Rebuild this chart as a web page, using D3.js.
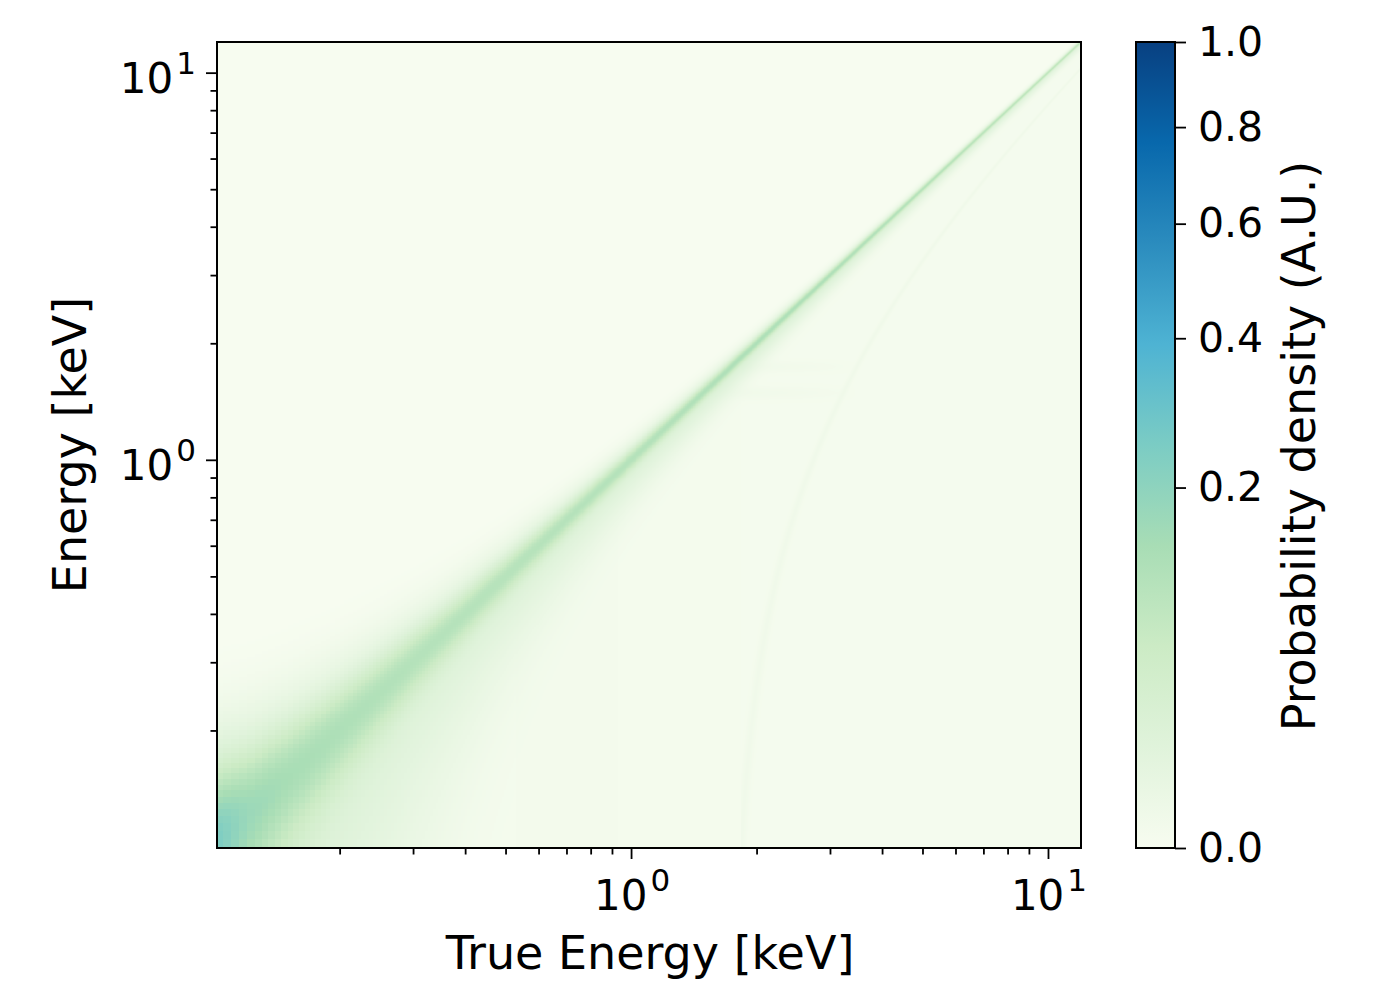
<!DOCTYPE html>
<html>
<head>
<meta charset="utf-8">
<script src="https://cdnjs.cloudflare.com/ajax/libs/d3/7.8.5/d3.min.js"></script>
<style>
  body { margin: 0; background: #fff; }
  text { font-family: "DejaVu Sans", sans-serif; fill: #000; }
</style>
</head>
<body>
<svg id="chart" width="1394" height="988"></svg>
<script>
// main diagonal (photo peak)
var lineEnergy  = [0.1, 0.12, 0.15, 0.2, 0.3, 0.5, 1, 2, 3, 5, 10, 12];
var peakDensity = [0.25, 0.17, 0.14, 0.125, 0.11, 0.105, 0.11, 0.125, 0.12, 0.105, 0.085, 0.08];
var lineFwhm    = [0.068, 0.069, 0.070, 0.072, 0.074, 0.076, 0.080, 0.090, 0.100, 0.120, 0.160, 0.175];

// faint features below the diagonal
var shelfEdge  = [0.1, 0.53, 0.93, 1.84];
var shelfLevel = [0.0003, 0.0005, 0.0003, 0.0002];
var escapeShift = 1.74;
var escapeLevel = 0.0012;
var fluorLine  = [1.49, 1.74];
var fluorLevel = [0.0012, 0.001];
var fluorFrom  = [1.56, 1.84];
var fluorTo    = [3.5, 3.5];
var binWidth = 0.005;

var xMajor = [1, 10];
var yMajor = [1, 10];
var minor = [0.2, 0.3, 0.4, 0.5, 0.6, 0.7, 0.8, 0.9, 2, 3, 4, 5, 6, 7, 8, 9];
var cbTicks = [0, 0.2, 0.4, 0.6, 0.8, 1.0];

// matplotlib GnBu
var gnbu = ['#f7fcf0', '#e0f3db', '#ccebc5', '#a8ddb5', '#7bccc4',
            '#4eb3d3', '#2b8cbe', '#0868ac', '#084081'];

var m = { left: 217, top: 42, right: 1081, bottom: 848 };
var svg = d3.select('#chart');

var x = d3.scaleLog().domain([0.1016, 12]).range([m.left, m.right]);
var y = d3.scaleLog().domain([0.0994, 12]).range([m.bottom, m.top]);

var peakAt = d3.scaleLog().domain(lineEnergy).range(peakDensity).clamp(true);
var fwhmAt = d3.scaleLog().domain(lineEnergy).range(lineFwhm).clamp(true);
var norm = d3.scalePow().exponent(0.5).domain([0, 1]).clamp(true);
var cmap = d3.scaleLinear()
    .domain(gnbu.map(function (c, i) { return i / (gnbu.length - 1); }))
    .range(gnbu);
var lut = d3.range(1024).map(function (i) { return d3.rgb(cmap(i / 1023)); });

function bin(e) {
    return (Math.floor(e / binWidth) + 0.5) * binWidth;
}

function shelf(et) {
    var i = Math.max(d3.bisectRight(shelfEdge, et) - 1, 0);
    return shelfLevel[i];
}

function gauss(d, s) {
    return Math.exp(-0.5 * d * d / (s * s));
}

function density(et, em) {
    var s = fwhmAt(et) / 2.355;
    var a = peakAt(et);
    var d = em - et;
    var v = 0.8 * a * gauss(d, s);
    // broad halo, wider on the low side
    v += 0.2 * a * gauss(d, (d < 0 ? 3.5 : 1.8) * s);
    if (d < 0) {
        v += shelf(et);
    }
    if (et > escapeShift + 0.1) {
        var ee = et - escapeShift;
        v += escapeLevel * gauss(em - ee, fwhmAt(ee) / 2.355);
    }
    fluorLine.forEach(function (fl, k) {
        if (et > fluorFrom[k] && et < fluorTo[k]) {
            var fade = 1 - (et - fluorFrom[k]) / (fluorTo[k] - fluorFrom[k]);
            v += fluorLevel[k] * fade * gauss(em - fl, fwhmAt(fl) / 2.355);
        }
    });
    return v;
}

// heatmap, one canvas pixel per screen pixel
var w = m.right - m.left, h = m.bottom - m.top;
var canvas = document.createElement('canvas');
canvas.width = w;
canvas.height = h;
var ctx = canvas.getContext('2d');
var img = ctx.createImageData(w, h);
var cols = d3.range(w).map(function (i) { return bin(x.invert(m.left + i + 0.5)); });
var rows = d3.range(h).map(function (j) { return bin(y.invert(m.top + j + 0.5)); });

rows.forEach(function (em, j) {
    cols.forEach(function (et, i) {
        var c = lut[Math.round(norm(density(et, em)) * 1023)];
        var k = (j * w + i) * 4;
        img.data[k] = c.r;
        img.data[k + 1] = c.g;
        img.data[k + 2] = c.b;
        img.data[k + 3] = 255;
    });
});
ctx.putImageData(img, 0, 0);

svg.append('image')
    .attr('x', m.left).attr('y', m.top)
    .attr('width', w).attr('height', h)
    .attr('preserveAspectRatio', 'none')
    .attr('href', canvas.toDataURL());

// axes
function styleAxis(g) {
    g.select('.domain').remove();
    g.selectAll('line').attr('stroke', '#000').attr('stroke-width', 1.8);
}

svg.append('g').attr('transform', 'translate(0,' + m.bottom + ')')
    .call(d3.axisBottom(x).tickValues(xMajor).tickSize(11).tickSizeOuter(0).tickFormat(''))
    .call(styleAxis);
svg.append('g').attr('transform', 'translate(0,' + m.bottom + ')')
    .call(d3.axisBottom(x).tickValues(minor).tickSize(6.5).tickSizeOuter(0).tickFormat(''))
    .call(styleAxis);
svg.append('g').attr('transform', 'translate(' + m.left + ',0)')
    .call(d3.axisLeft(y).tickValues(yMajor).tickSize(11).tickSizeOuter(0).tickFormat(''))
    .call(styleAxis);
svg.append('g').attr('transform', 'translate(' + m.left + ',0)')
    .call(d3.axisLeft(y).tickValues(minor).tickSize(6.5).tickSizeOuter(0).tickFormat(''))
    .call(styleAxis);

function powLabel(sel, v) {
    sel.append('tspan').text('10');
    sel.append('tspan').attr('dx', 3).attr('dy', -19).attr('font-size', 31)
        .text(Math.round(Math.log10(v)));
}

xMajor.forEach(function (v) {
    svg.append('text')
        .attr('x', x(v) + 1).attr('y', 910)
        .attr('text-anchor', 'middle').attr('font-size', 42)
        .call(powLabel, v);
});
yMajor.forEach(function (v) {
    svg.append('text')
        .attr('x', 196).attr('y', y(v) + 20)
        .attr('text-anchor', 'end').attr('font-size', 42)
        .call(powLabel, v);
});

svg.append('rect')
    .attr('x', m.left).attr('y', m.top)
    .attr('width', w).attr('height', h)
    .attr('fill', 'none').attr('stroke', '#000').attr('stroke-width', 2);

svg.append('text')
    .attr('x', (m.left + m.right) / 2 + 1).attr('y', 969)
    .attr('text-anchor', 'middle').attr('font-size', 46)
    .text('True Energy [keV]');
svg.append('text')
    .attr('transform', 'translate(86,' + ((m.top + m.bottom) / 2) + ') rotate(-90)')
    .attr('text-anchor', 'middle').attr('font-size', 46)
    .text('Energy [keV]');

// colorbar
var cb = { left: 1136, right: 1175 };
var cbScale = d3.scalePow().exponent(0.5).domain([0, 1]).range([m.bottom, m.top]);

var grad = svg.append('defs').append('linearGradient')
    .attr('id', 'cbgrad')
    .attr('x1', 0).attr('y1', 1).attr('x2', 0).attr('y2', 0);
gnbu.forEach(function (c, i) {
    grad.append('stop').attr('offset', i / (gnbu.length - 1)).attr('stop-color', c);
});

svg.append('rect')
    .attr('x', cb.left).attr('y', m.top)
    .attr('width', cb.right - cb.left).attr('height', h)
    .attr('fill', 'url(#cbgrad)')
    .attr('stroke', '#000').attr('stroke-width', 2);

var gcb = svg.append('g').attr('transform', 'translate(' + cb.right + ',0)')
    .call(d3.axisRight(cbScale).tickValues(cbTicks).tickSize(11).tickSizeOuter(0)
        .tickPadding(12).tickFormat(d3.format('.1f')))
    .call(styleAxis);
gcb.selectAll('text')
    .attr('font-size', 41)
    .attr('font-family', '"DejaVu Sans", sans-serif')
    .attr('fill', '#000');

svg.append('text')
    .attr('transform', 'translate(1315,' + ((m.top + m.bottom) / 2 + 1) + ') rotate(-90)')
    .attr('text-anchor', 'middle').attr('font-size', 46)
    .text('Probability density (A.U.)');
</script>
</body>
</html>
